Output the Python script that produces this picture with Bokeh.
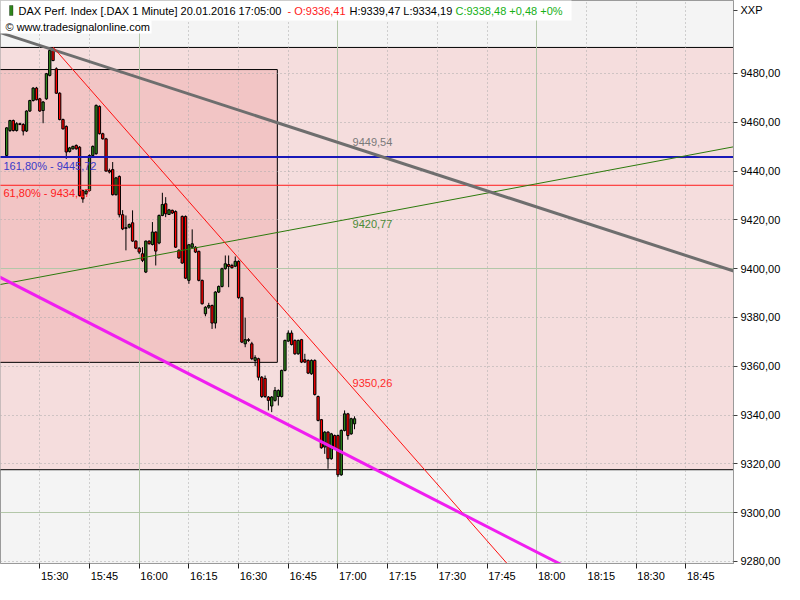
from bokeh.plotting import figure
from bokeh.models import FixedTicker, Grid, Label, BoxAnnotation, ColumnDataSource
from bokeh.embed import file_html
from bokeh.resources import INLINE

# ---------------- data ----------------
FIRST_BAR = "15:20"          # first 1-minute candle
LAST_BAR = "17:05"           # current bar

opens = [
    9446.4, 9456.6, 9460.7, 9456.6, 9459.4, 9459.1, 9456.4, 9464.6, 9468.9, 9474.0,
    9469.6, 9464.8, 9469.6, 9479.2, 9489.4, 9481.9, 9471.9, 9461.1, 9458.3, 9448.0,
    9449.1, 9450.5, 9449.8, 9432.0, 9430.7, 9432.0, 9446.4, 9447.1, 9466.5, 9455.3,
    9453.2, 9440.2, 9440.6, 9430.3, 9437.8, 9422.1, 9416.5, 9417.0, 9418.8, 9411.3,
    9408.4, 9406.1, 9398.6, 9411.3, 9409.9, 9415.0, 9410.5, 9421.8, 9426.6, 9422.2,
    9423.9, 9423.4, 9407.5, 9421.4, 9421.4, 9395.2, 9408.8, 9408.8, 9407.1, 9395.2,
    9381.5, 9384.2, 9384.9, 9377.7, 9390.4, 9392.7, 9400.0, 9401.7, 9401.3, 9401.0,
    9403.0, 9388.1, 9369.2, 9370.9, 9369.2, 9362.4, 9363.1, 9355.5, 9355.0, 9347.4,
    9343.7, 9346.0, 9347.6, 9347.6, 9358.3, 9370.3, 9373.6, 9370.6, 9365.1, 9370.9,
    9362.7, 9362.4, 9356.9, 9362.4, 9347.6, 9338.1, 9326.9, 9333.0, 9322.1, 9331.6,
    9331.6, 9315.5, 9333.7, 9340.5, 9332.3, 9336.41]
highs = [
    9458.0, 9461.0, 9461.1, 9460.0, 9459.8, 9459.6, 9464.9, 9469.2, 9474.4, 9474.5,
    9470.0, 9468.7, 9480.2, 9490.0, 9490.8, 9482.5, 9472.3, 9461.5, 9458.7, 9449.9,
    9450.4, 9450.9, 9450.2, 9432.4, 9432.2, 9446.8, 9450.5, 9467.3, 9466.9, 9455.7,
    9453.6, 9441.0, 9443.7, 9437.6, 9438.2, 9424.0, 9421.8, 9418.5, 9423.9, 9411.6,
    9408.8, 9408.8, 9411.5, 9411.6, 9419.1, 9415.3, 9422.2, 9431.1, 9429.3, 9424.5,
    9424.2, 9423.9, 9408.0, 9421.8, 9421.8, 9410.0, 9416.1, 9409.2, 9407.4, 9395.5,
    9384.6, 9386.0, 9385.3, 9390.8, 9393.1, 9400.4, 9405.4, 9405.4, 9402.0, 9405.0,
    9403.4, 9388.5, 9379.9, 9371.5, 9370.0, 9364.5, 9363.5, 9356.0, 9356.2, 9347.8,
    9347.8, 9351.5, 9350.5, 9358.6, 9370.9, 9374.7, 9374.7, 9371.0, 9370.9, 9371.2,
    9365.1, 9362.8, 9362.8, 9362.8, 9348.0, 9338.4, 9333.4, 9333.4, 9332.7, 9332.0,
    9332.0, 9334.1, 9341.9, 9340.9, 9338.9, 9339.47]
lows = [
    9446.0, 9456.0, 9456.2, 9456.2, 9458.8, 9454.6, 9456.0, 9464.2, 9468.5, 9469.0,
    9464.3, 9459.6, 9469.2, 9478.8, 9485.0, 9471.6, 9460.8, 9457.0, 9445.0, 9447.6,
    9448.8, 9448.8, 9429.6, 9427.0, 9430.3, 9431.6, 9446.0, 9446.7, 9455.0, 9452.9,
    9439.7, 9439.0, 9430.0, 9430.0, 9421.0, 9415.8, 9407.5, 9416.5, 9411.0, 9408.0,
    9406.0, 9402.7, 9398.2, 9409.9, 9409.5, 9401.3, 9410.0, 9421.5, 9421.1, 9422.0,
    9422.4, 9408.5, 9404.0, 9402.0, 9395.8, 9393.8, 9408.5, 9406.4, 9394.8, 9385.3,
    9380.5, 9383.5, 9375.3, 9375.5, 9390.0, 9392.3, 9399.6, 9392.4, 9400.0, 9400.6,
    9387.7, 9369.5, 9367.8, 9370.0, 9362.5, 9360.0, 9354.2, 9347.0, 9347.0, 9341.9,
    9341.2, 9345.5, 9343.9, 9347.2, 9357.9, 9370.0, 9368.5, 9364.7, 9364.7, 9361.3,
    9361.3, 9356.8, 9356.5, 9348.0, 9337.4, 9326.2, 9324.1, 9318.0, 9321.7, 9325.8,
    9314.6, 9315.1, 9333.3, 9329.9, 9331.9, 9334.19]
closes = [
    9457.7, 9460.7, 9456.6, 9459.4, 9459.1, 9456.4, 9464.6, 9468.9, 9474.0, 9469.2,
    9464.6, 9468.3, 9479.9, 9489.4, 9485.3, 9471.9, 9461.1, 9457.3, 9447.8, 9449.5,
    9450.1, 9449.1, 9430.0, 9428.6, 9431.8, 9446.4, 9450.1, 9466.9, 9455.3, 9453.2,
    9440.0, 9439.6, 9430.3, 9437.2, 9422.1, 9416.3, 9416.8, 9418.1, 9411.3, 9408.4,
    9406.8, 9403.4, 9411.3, 9410.2, 9415.0, 9407.2, 9421.8, 9426.3, 9422.5, 9424.1,
    9422.8, 9408.8, 9404.4, 9402.3, 9396.1, 9409.8, 9410.2, 9406.8, 9395.2, 9385.6,
    9384.2, 9384.9, 9377.7, 9390.4, 9392.7, 9400.0, 9402.0, 9400.9, 9400.4, 9403.0,
    9388.1, 9369.9, 9370.9, 9370.6, 9363.1, 9363.5, 9355.5, 9347.6, 9347.6, 9346.0,
    9347.4, 9350.1, 9350.1, 9358.3, 9370.6, 9373.6, 9368.9, 9365.1, 9370.6, 9361.7,
    9361.7, 9357.2, 9362.4, 9348.4, 9337.8, 9326.6, 9333.0, 9322.1, 9332.3, 9326.2,
    9315.5, 9333.7, 9340.5, 9331.6, 9338.5, 9338.48]

x_tick_labels = ["15:30", "15:45", "16:00", "16:15", "16:30", "16:45", "17:00",
                 "17:15", "17:30", "17:45", "18:00", "18:15", "18:30", "18:45"]
y_ticks = [9280, 9300, 9320, 9340, 9360, 9380, 9400, 9420, 9440, 9460, 9480]

# horizontal levels
fib_161 = 9445.72
fib_61 = 9434.17
range_high = 9490.66
range_low = 9317.6
box_high = 9481.6
box_low = 9361.6
box_end = "16:41.7"

# trend lines: two anchor points (time, price) each
gray_trend = [("15:34", 9489.7), ("17:05", 9449.54)]
red_trend = [("15:34", 9490.8), ("17:05", 9350.26)]
magenta_trend = [("15:20", 9395.1), ("17:05", 9322.1)]
green_trend = [("15:20", 9394.0), ("17:05", 9420.77)]

header_main = "DAX Perf. Index [.DAX  1 Minute] 20.01.2016 17:05:00"
header_change = "+0,48 +0%"
symbol_tag = "XXP"

# ---------------- helpers ----------------
def minutes(hhmm):
    h, m = hhmm.split(":")
    return int(h) * 60 + float(m) - (15 * 60 + 30)

def de(v):
    return f"{v:.2f}".replace(".", ",")

W, H = 784, 584
RB, BB = 51, 21
FW, FH = W - RB, H - BB
PX_PER_MIN, PX_PER_PT = 3.313, 2.44
T0 = -11.86
T1 = T0 + FW / PX_PER_MIN
P_TOP = 9509.9
P_BOT = P_TOP - FH / PX_PER_PT

def px_t(X):  # page pixel -> time
    return T0 + X / PX_PER_MIN

def px_p(Y):  # page pixel -> price
    return P_TOP - Y / PX_PER_PT

def line_through(anchors, ta, tb):
    (a, pa), (b, pb) = anchors
    ta_, tb_ = minutes(a), minutes(b)
    k = (pb - pa) / (tb_ - ta_)
    return [ta, tb], [pa + k * (ta - ta_), pa + k * (tb - ta_)]

FONT = "Liberation Sans"
FS = "11px"

p = figure(width=W, height=H, x_range=(T0, T1), y_range=(P_BOT, P_TOP),
           y_axis_location="right", toolbar_location=None, output_backend="svg",
           min_border_left=0, min_border_top=0, min_border_right=RB,
           min_border_bottom=BB,
           background_fill_color="#f4f4f4", border_fill_color="white",
           outline_line_color="#9a9a9a")
p.xgrid.visible = False
p.ygrid.visible = False

# range boxes (drawn beneath the grid)
p.quad(left=[T0 - 5, T0 - 5], right=[T1 + 5, minutes(box_end)],
       bottom=[range_low, box_low], top=[range_high, box_high],
       fill_color=["#f5dddd", "#f2c5c5"], line_color="black", line_width=1,
       level="image")

# grid
quarter = [minutes(l) for l in x_tick_labels]
hours = [q for q, l in zip(quarter, x_tick_labels) if l.endswith(":00")]
quarters = [q for q, l in zip(quarter, x_tick_labels) if not l.endswith(":00")]
p.add_layout(Grid(dimension=0, ticker=FixedTicker(ticks=quarters),
                  grid_line_color="#a9a9a9", grid_line_dash="1 3"))
p.add_layout(Grid(dimension=0, ticker=FixedTicker(ticks=hours),
                  grid_line_color="#b3c7a9"))
p.add_layout(Grid(dimension=1, ticker=FixedTicker(ticks=[v for v in y_ticks if v % 100]),
                  grid_line_color="#a9a9a9", grid_line_dash="1 3"))
p.add_layout(Grid(dimension=1, ticker=FixedTicker(ticks=[v for v in y_ticks if v % 100 == 0]),
                  grid_line_color="#b3c7a9"))

# candles
t_first = minutes(FIRST_BAR)
times = [t_first + k for k in range(len(opens))]
src = ColumnDataSource(dict(
    t=times, h=highs, l=lows,
    top=[max(o, c) for o, c in zip(opens, closes)],
    bottom=[min(o, c) for o, c in zip(opens, closes)],
    color=["#2f861c" if c >= o else "#ff0000" for o, c in zip(opens, closes)]))
p.segment(x0="t", y0="l", x1="t", y1="h", source=src, line_color="black", line_width=1)
p.vbar(x="t", width=0.7, top="top", bottom="bottom", source=src,
       fill_color="color", line_color="black", line_width=1)

# horizontal fib lines
p.line([T0 - 5, T1 + 5], [fib_61, fib_61], line_color="#ff1a1a", line_width=1)
p.line([T0 - 5, T1 + 5], [fib_161, fib_161], line_color="#1818b8", line_width=2)

# trend lines
xs, ys = line_through(green_trend, T0 - 5, T1 + 5)
p.line(xs, ys, line_color="#2c7a0c", line_width=1)
xs, ys = line_through(gray_trend, T0 - 5, T1 + 5)
p.line(xs, ys, line_color="#6e6e6e", line_width=3)
xs, ys = line_through(red_trend, minutes(red_trend[0][0]), T1 + 5)
p.line(xs, ys, line_color="#ff1010", line_width=1)
xs, ys = line_through(magenta_trend, T0 - 5, T1 + 5)
p.line(xs, ys, line_color="#f01ef0", line_width=3)

def lab(x, y, text, color, **kw):
    p.add_layout(Label(x=x, y=y, text=text, text_color=color, text_font=FONT,
                       text_font_size=FS, text_baseline="middle", **kw))

t_cur = minutes(LAST_BAR)
lab(t_cur - 0.6, gray_trend[1][1], de(gray_trend[1][1]), "#7a7a7a", y_offset=6)
lab(t_cur - 0.6, green_trend[1][1], de(green_trend[1][1]), "#4a8a36", y_offset=-6)
lab(t_cur - 0.6, red_trend[1][1], de(red_trend[1][1]), "#ff2a2a", y_offset=7)
lab(px_t(3), fib_161, "161,80% - " + de(fib_161), "#3a3ac8", y_offset=-9)
lab(px_t(3), fib_61, "61,80% - " + de(fib_61), "#ff2020", y_offset=-8)

# header boxes and text
p.add_layout(BoxAnnotation(left=T0 - 5, right=px_t(571), top=P_TOP + 5, bottom=px_p(20),
                           fill_color="white", fill_alpha=1, line_color=None))
p.add_layout(BoxAnnotation(left=T0 - 5, right=px_t(151), top=px_p(20), bottom=px_p(33),
                           fill_color="white", fill_alpha=1, line_color=None))
p.add_layout(BoxAnnotation(left=px_t(9), right=px_t(12.5), top=px_p(5), bottom=px_p(15),
                           fill_color="#2f861c", fill_alpha=1, line_color="black"))
o, h, l, c = opens[-1], highs[-1], lows[-1], closes[-1]
hy = px_p(10)
lab(px_t(18), hy, header_main, "black")
lab(px_t(287), hy, "- O:" + de(o), "#ff1a1a")
lab(px_t(349), hy, "H:" + de(h) + " L:" + de(l), "black")
lab(px_t(455), hy, "C:" + de(c) + " " + header_change, "#16b016")
lab(px_t(5), px_p(26.5), "\u00a9 www.tradesignalonline.com", "black")

# axes
xa = p.xaxis[0]
label_pos = [q + 4.5 for q in quarter]
xa.ticker = FixedTicker(ticks=label_pos, minor_ticks=quarter)
xa.major_label_overrides = {lp: s for lp, s in zip(label_pos, x_tick_labels)}
xa.major_tick_line_color = None
xa.major_tick_out = 0
xa.major_tick_in = 0
xa.minor_tick_line_color = "#202020"
xa.minor_tick_out = 5
xa.minor_tick_in = 0
xa.major_label_standoff = 1
xa.axis_line_color = "#9a9a9a"
xa.major_label_text_font = FONT
xa.major_label_text_font_size = FS
xa.major_label_text_color = "black"

tag_value = round(px_p(10), 3)
ya = p.yaxis[0]
ya.ticker = FixedTicker(ticks=y_ticks + [tag_value])
overrides = {v: de(v) for v in y_ticks}
overrides[tag_value] = symbol_tag
ya.major_label_overrides = overrides
ya.minor_tick_line_color = None
ya.major_tick_out = 4
ya.major_tick_in = 0
ya.major_tick_line_color = "#404040"
ya.major_label_standoff = 3
ya.axis_line_color = "#9a9a9a"
ya.major_label_text_font = FONT
ya.major_label_text_font_size = FS
ya.major_label_text_color = "black"

open("out.html", "w").write(file_html(p, INLINE))
